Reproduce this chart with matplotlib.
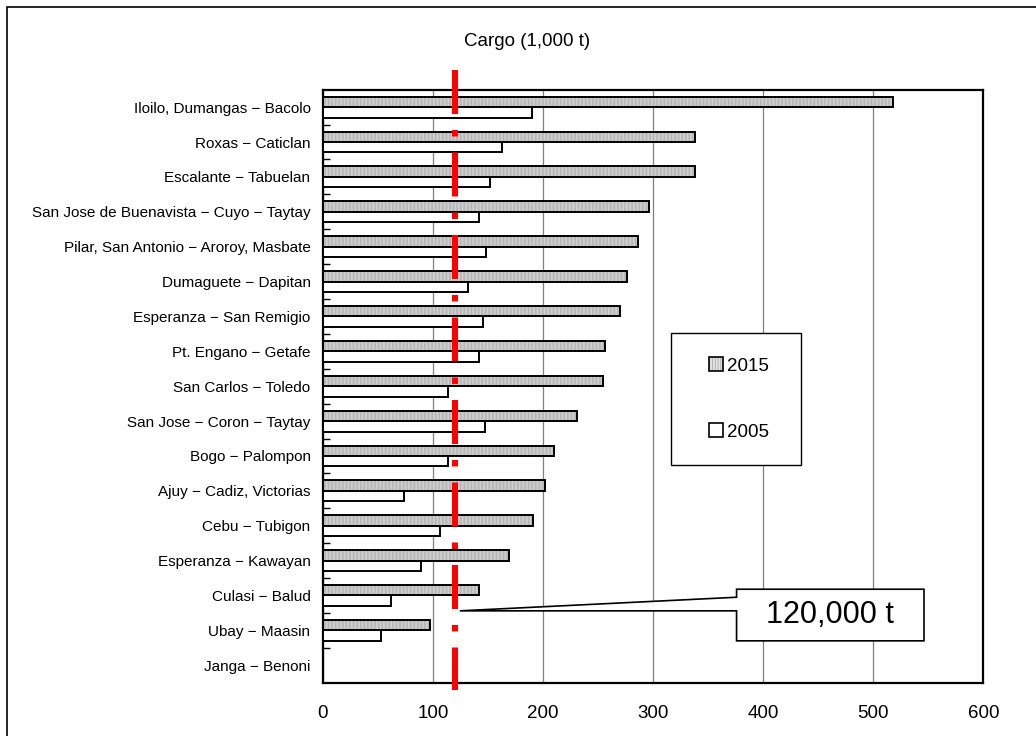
import numpy as np
import matplotlib
matplotlib.use("Agg")
import matplotlib.pyplot as plt
from matplotlib.patches import Patch, Rectangle, Polygon
from matplotlib.legend_handler import HandlerTuple

plt.rcParams['font.family'] = ['Liberation Sans', 'DejaVu Sans']
plt.rcParams['hatch.linewidth'] = 0.5

### DATA ######################################################################
routes = ["Iloilo, Dumangas − Bacolo", "Roxas − Caticlan", "Escalante − Tabuelan",
          "San Jose de Buenavista − Cuyo − Taytay", "Pilar, San Antonio − Aroroy, Masbate",
          "Dumaguete − Dapitan", "Esperanza − San Remigio", "Pt. Engano − Getafe",
          "San Carlos − Toledo", "San Jose − Coron − Taytay", "Bogo − Palompon",
          "Ajuy − Cadiz, Victorias", "Cebu − Tubigon", "Esperanza − Kawayan",
          "Culasi − Balud", "Ubay − Maasin", "Janga − Benoni"]
cargo_2015 = [518, 338, 338, 296, 286, 276, 270, 256, 254, 231, 210, 202, 191, 169, 142, 97, 0]
cargo_2005 = [190, 163, 152, 142, 148, 132, 145, 142, 114, 147, 114, 74, 106, 89, 62, 53, 0]
threshold = 120          # 1,000 t
x_ticks = [0, 100, 200, 300, 400, 500, 600]

### PLOT ######################################################################
fig = plt.figure(figsize=(10.36, 7.36), dpi=100)
ax = fig.add_axes([323/1036, 1-682.7/736, (983.3-323)/1036, (682.7-89.7)/736])

y = np.arange(len(routes))
h = 0.3
face15, stripe15 = "#e2e2e2", "#a4a4a4"

# 2015: light grey with fine vertical stripes, black outline
ax.barh(y - h/2, cargo_2015, height=h, color=face15, edgecolor=stripe15,
        hatch="|"*12, linewidth=0, zorder=3)
ax.barh(y - h/2, cargo_2015, height=h, fill=False, edgecolor="black",
        linewidth=1.4, zorder=3)
# 2005: white
ax.barh(y + h/2, cargo_2005, height=h, color="white", edgecolor="black",
        linewidth=1.4, zorder=3)

# threshold line (dash-dot, red)
ax.plot([threshold, threshold], [-1.065, 16.71], color="red", linewidth=4.32,
        dashes=(7.33, 2.67, 1.08, 2.67), dash_capstyle="butt",
        clip_on=False, zorder=5)

ax.set_xlim(0, 600)
ax.set_ylim(len(routes) - 0.5, -0.5)
ax.set_xticks(x_ticks)
ax.set_xticklabels([str(v) for v in x_ticks], fontsize=13.5)
ax.tick_params(axis="x", length=0, pad=16)
ax.set_yticks(y)
ax.set_yticklabels(routes, fontsize=11)
ax.tick_params(axis="y", which="major", length=0, pad=9)
ax.set_yticks(np.arange(0.5, len(routes) - 1, 1), minor=True)
ax.tick_params(axis="y", which="minor", direction="in", length=5, width=1)
ax.grid(axis="x", color="#808080", linewidth=0.9, zorder=0)
ax.set_axisbelow(True)
for s in ax.spines.values():
    s.set_linewidth(1.6)
    s.set_color("black")

# legend box
ax.add_patch(Rectangle((316.1, 6.475), 118.2, 3.785, facecolor="white",
                       edgecolor="black", linewidth=1.0, zorder=6, clip_on=False))
hatch_h = (Patch(facecolor=face15, edgecolor=stripe15, hatch="|"*6, linewidth=0),
           Patch(fill=False, edgecolor="black", linewidth=1.2))
plain_h = Patch(facecolor="white", edgecolor="black", linewidth=1.2)
leg = ax.legend([hatch_h, plain_h], ["2015", "2005"], loc="center",
                bbox_to_anchor=(378, 8.37), bbox_transform=ax.transData,
                frameon=False, fontsize=13.5, labelspacing=2.6,
                handlelength=0.75, handleheight=0.75, handletextpad=0.25,
                handler_map={tuple: HandlerTuple(ndivide=1)})
leg.set_zorder(7)

# callout "120,000 t"
callout = Polygon([(124.3, 14.44), (375.8, 14.05), (375.8, 13.82), (546.1, 13.82),
                   (546.1, 15.30), (375.8, 15.30), (375.8, 14.44)], closed=True,
                  facecolor="white", edgecolor="black", linewidth=1.2, zorder=6,
                  clip_on=False)
ax.add_patch(callout)
ax.text(461, 14.56, "120,000 t", fontsize=22, ha="center", va="center", zorder=7)

fig.text(527/1036, 1-42/736, "Cargo (1,000 t)", fontsize=13.5, ha="center", va="center")

# outer frame
fig.add_artist(Rectangle((7/1036, -0.1), 1.2, 1.1 - 7/736, transform=fig.transFigure,
                         fill=False, edgecolor="black", linewidth=1.2))

fig.savefig("out.png", dpi=100)
